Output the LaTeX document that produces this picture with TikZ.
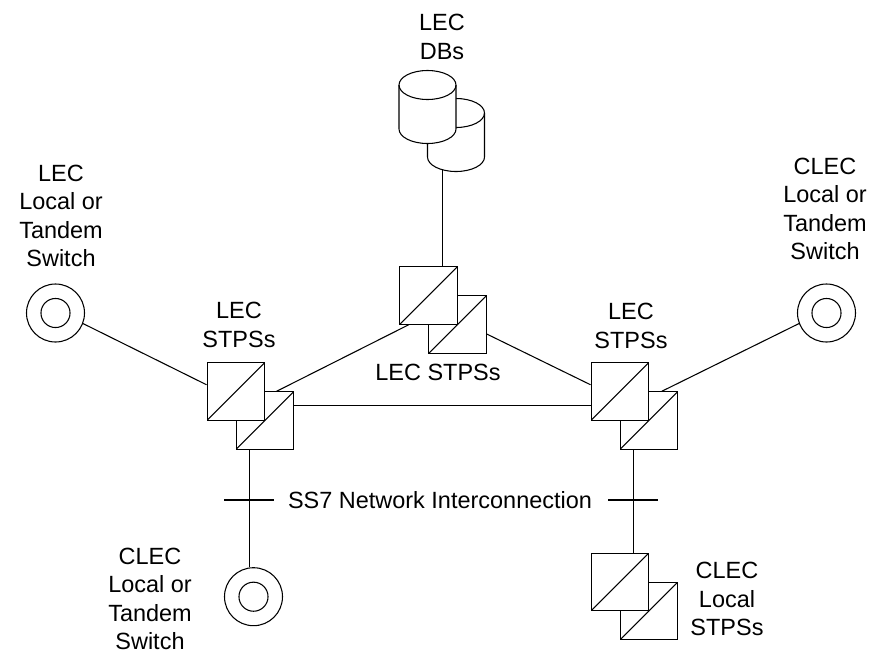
\documentclass[tikz,border=0pt]{standalone}
\usepackage{fontspec}
\setmainfont{Liberation Sans}
\tikzset{
  stps/.style={draw,fill=white,rectangle,inner sep=0pt,minimum size=43pt,
    path picture={\draw (path picture bounding box.south west)--(path picture bounding box.north east);}},
  switch/.style={draw,circle,inner sep=0pt,minimum size=43.5pt,
    path picture={\draw (path picture bounding box.center) circle (10.9pt);}},
  dbase/.pic={
    \draw[fill=white] (-28.5,-22) arc [start angle=180,end angle=360,x radius=28.5,y radius=14.5]
      --(28.5,22) arc [start angle=0,end angle=180,x radius=28.5,y radius=14.5]--cycle;
    \draw (-28.5,-22) arc [start angle=180,end angle=0,x radius=28.5,y radius=14.5];
    \coordinate (-bot) at (-14,34.6);},
  lbl/.style={align=center,inner sep=0pt,font=\fontsize{17.6}{21.2}\selectfont},
  tick/.style={line width=0.8pt}
}
\begin{document}
\begin{tikzpicture}[x=0.75pt,y=-0.75pt,line width=0.8pt]
        \useasboundingbox (0,0) rectangle (872,654);
        % databases
        \pic (dbb) at (456,135) {dbase};
        \pic (dba) at (427.5,107) {dbase};
        % transfer points, rear box first
        \node[stps] (ctrb) at (457.5,324.5) {};
        \node[stps] (ctra) at (428.5,295.5) {};
        \node[stps] (leftb) at (264.75,420.5) {};
        \node[stps] (lefta) at (235.75,391.5) {};
        \node[stps] (rightb) at (648.75,420.5) {};
        \node[stps] (righta) at (619.75,391.5) {};
        \node[stps] (clecb) at (648.75,611) {};
        \node[stps] (cleca) at (619.75,582) {};
        % switches
        \node[switch] (lecsw) at (55.5,313) {};
        \node[switch] (clecsw) at (826.5,313) {};
        \node[switch] (botsw) at (253.5,596.7) {};
        % links
        \draw (ctra.65 |- dbb-bot)--(ctra.65);
        \draw (lecsw.-21)--(lefta.167);
        \draw (clecsw.201)--(rightb.66);
        \draw (leftb.68)--(ctra.236);
        \draw (ctrb.-18)--(righta.167);
        \draw (leftb.east |- 0,405.5)--(righta.west |- 0,405.5);
        \draw (leftb.243)--(leftb.243 |- botsw.97);
        \draw (rightb.242)--(rightb.242 |- cleca.north);
        % cut marks
        \coordinate (ticka) at (224,500);
        \coordinate (tickb) at (274,500);
        \coordinate (tickc) at (608,500);
        \coordinate (tickd) at (658,500);
        \draw[tick] (ticka)--(tickb);
        \draw[tick] (tickc)--(tickd);
        % texts
        \node[lbl] (dblbl) at (442,37) {LEC\\DBs};
        \node[lbl] (leclbl) at (61,216) {LEC\\Local or\\Tandem\\Switch};
        \node[lbl] (cleclbl) at (825,209) {CLEC\\Local or\\Tandem\\Switch};
        \node[lbl] (leftlbl) at (239,325) {LEC\\STPSs};
        \node[lbl] (ctrlbl) at (438,372) {LEC STPSs};
        \node[lbl] (rightlbl) at (631,326) {LEC\\STPSs};
        \node[lbl] (ss7lbl) at (440,500) {SS7 Network Interconnection};
        \node[lbl] (botlbl) at (150,599) {CLEC\\Local or\\Tandem\\Switch};
        \node[lbl] (stplbl) at (727,599) {CLEC\\Local\\STPSs};
      \end{tikzpicture}
\end{document}
